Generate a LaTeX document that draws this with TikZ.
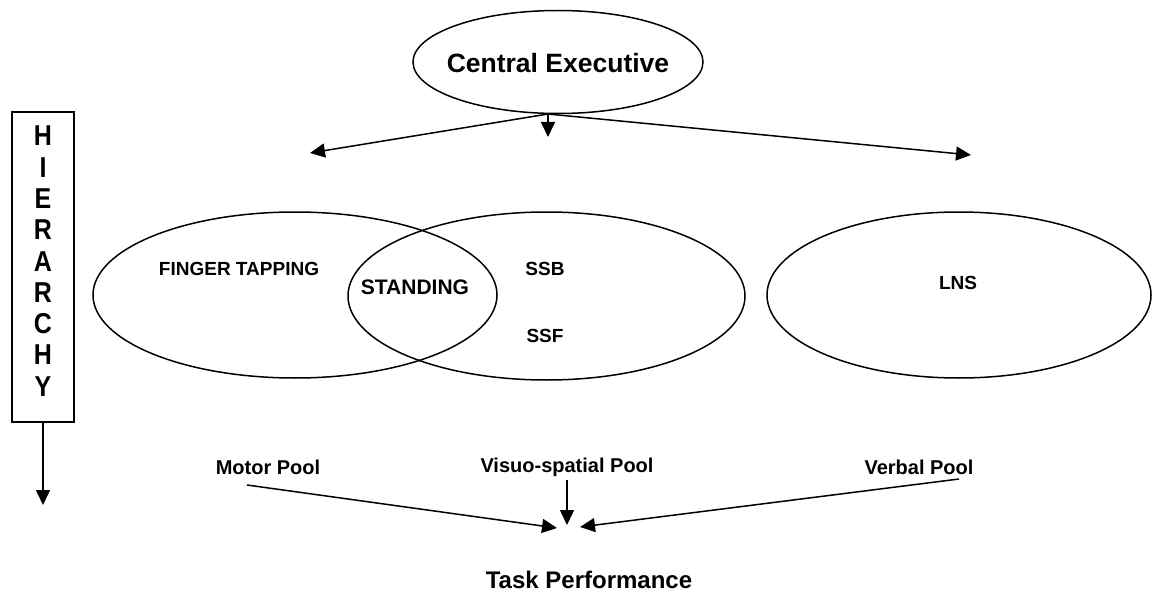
\documentclass[tikz,border=0pt]{standalone}
\usepackage{fontspec}
\setmainfont{Liberation Sans}
\usetikzlibrary{shapes.geometric,arrows.meta}
\begin{document}
\begin{tikzpicture}[x=1pt,y=-1pt,
  every node/.style={inner sep=0pt,font=\bfseries},
  pool/.style={draw,ellipse,line width=1.5pt},
  lbl/.style={font=\fontsize{19}{19}\bfseries\selectfont},
  poollbl/.style={font=\fontsize{20}{20}\bfseries\selectfont},
  conn/.style={line width=1.5pt,-{Triangle[length=15pt,width=14pt]}},
  hletter/.style={font=\fontsize{25}{25}\bfseries\selectfont}]
\useasboundingbox (0,0) rectangle (1162,599);

% central executive
\node[pool,minimum width=290pt,minimum height=103pt] (ce) at (558,62) {};
\node[font=\fontsize{26.5}{26.5}\bfseries\selectfont] (cet) at (558,63) {Central Executive};
\coordinate (src) at (548,114);
\coordinate (tipL) at (310,153);
\coordinate (tipC) at (548,137);
\coordinate (tipR) at (971,155);
\draw[conn] (src) -- (tipL);
\draw[conn] (src) -- (tipC);
\draw[conn] (src) -- (tipR);

% the three pools
\node[pool,minimum width=404pt,minimum height=166pt] (motor) at (295,295) {};
\node[pool,minimum width=397pt,minimum height=168pt] (visuo) at (546.5,296) {};
\node[pool,minimum width=384pt,minimum height=166pt] (verbal) at (959,295) {};

\node[lbl] (ft) at (239,269) {FINGER TAPPING};
\node[font=\fontsize{21}{21}\bfseries\selectfont] (st) at (415,287) {STANDING};
\node[lbl] (ssb) at (545,269) {SSB};
\node[lbl] (ssf) at (545,336) {SSF};
\node[lbl] (lns) at (958,283) {LNS};

% hierarchy column
\node[draw,line width=1.5pt,minimum width=62pt,minimum height=310pt] (hier) at (43,267) {};
\foreach \ch [count=\i from 0] in {H,I,E,R,A,R,C,H,Y}
  \node[hletter] (h\i) at (43,136+31.3*\i) {\scalebox{1}[1.15]{\ch}};
\coordinate (hend) at (43,505);
\draw[conn] (hier.south) -- (hend);

% pool labels and convergence on task performance
\node[poollbl] (mp) at (268,467) {Motor Pool};
\node[poollbl] (vp) at (567,467) {Visuo-spatial Pool};
\node[poollbl] (bp) at (919,467) {Verbal Pool};
\coordinate (ms) at (247,485);
\coordinate (bs) at (959,479);
\coordinate (vs) at (567,480);
\coordinate (t1) at (557,528);
\coordinate (t2) at (567,525);
\coordinate (t3) at (580,527);
\draw[conn] (ms) -- (t1);
\draw[conn] (vs) -- (t2);
\draw[conn] (bs) -- (t3);

\node[font=\fontsize{24}{24}\bfseries\selectfont] (tp) at (589,580) {Task Performance};
\end{tikzpicture}
\end{document}
